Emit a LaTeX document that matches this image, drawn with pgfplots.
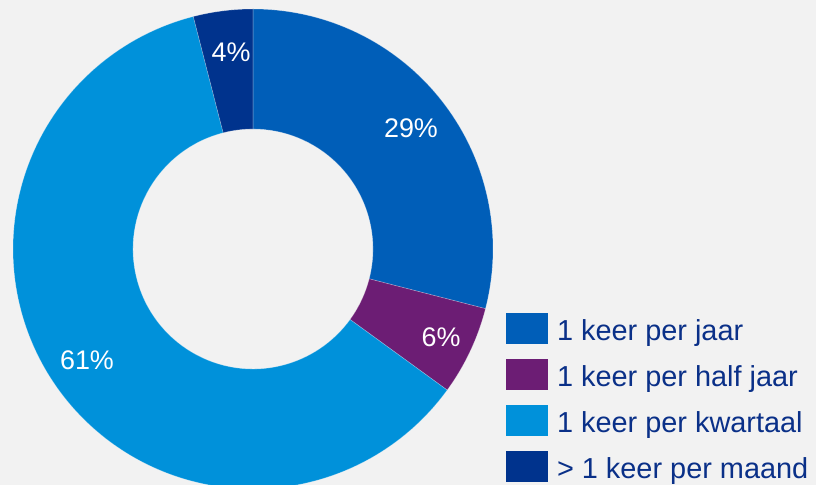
\documentclass[border=0pt]{standalone}
\usepackage{pgfplots}
\pgfplotsset{compat=1.18}
\usepackage{fontspec}
\setmainfont{Liberation Sans}
\definecolor{bg}{HTML}{F2F2F2}
\definecolor{cA}{HTML}{005EB8}
\definecolor{cB}{HTML}{6C1D74}
\definecolor{cC}{HTML}{0091DA}
\definecolor{cD}{HTML}{00338D}
\definecolor{legtext}{HTML}{0A3088}
% values (percent)
\def\vA{29}\def\vB{6}\def\vC{61}\def\vD{4}
\pgfmathsetmacro{\aO}{90}
\pgfmathsetmacro{\aA}{\aO-3.6*\vA}
\pgfmathsetmacro{\aB}{\aA-3.6*\vB}
\pgfmathsetmacro{\aC}{\aB-3.6*\vC}
\pgfmathsetmacro{\aD}{\aC-3.6*\vD}
\def\cx{253}\def\cy{236}\def\Ro{240}\def\Ri{120}
\begin{document}
\begin{tikzpicture}
\fill[bg] (0,0) rectangle (816bp,485bp);
\begin{axis}[
  at={(0,0)}, anchor=south west, scale only axis,
  width=816bp, height=485bp,
  xmin=0, xmax=816, ymin=0, ymax=485,
  hide axis,
  legend style={at={(axis cs:506,172)}, anchor=north west, draw=none, fill=none,
    inner sep=0pt, outer sep=0pt, row sep=15bp, column sep=9bp,
    font=\fontsize{29}{29}\selectfont, text=legtext,
    nodes={inner sep=0pt, text height=27bp, text depth=3bp}},
  legend cell align=left,
  legend image code/.code={\fill[#1,draw=none] (0bp,-15.5bp) rectangle (42bp,15.5bp);},
]
\addplot[fill=cA, draw=white, draw opacity=0.3, line width=0.6bp, domain=\aO:\aA, samples=90, variable=\t]
  ({\cx+\Ro*cos(\t)},{\cy+\Ro*sin(\t)}) -- (axis cs:{\cx+\Ri*cos(\aA)},{\cy+\Ri*sin(\aA)}) arc[start angle=\aA, end angle=\aO, radius=\Ri bp] -- cycle;
\addlegendentry{1 keer per jaar}
\addplot[fill=cB, draw=white, draw opacity=0.3, line width=0.6bp, domain=\aA:\aB, samples=30, variable=\t]
  ({\cx+\Ro*cos(\t)},{\cy+\Ro*sin(\t)}) -- (axis cs:{\cx+\Ri*cos(\aB)},{\cy+\Ri*sin(\aB)}) arc[start angle=\aB, end angle=\aA, radius=\Ri bp] -- cycle;
\addlegendentry{1 keer per half jaar}
\addplot[fill=cC, draw=white, draw opacity=0.3, line width=0.6bp, domain=\aB:\aC, samples=180, variable=\t]
  ({\cx+\Ro*cos(\t)},{\cy+\Ro*sin(\t)}) -- (axis cs:{\cx+\Ri*cos(\aC)},{\cy+\Ri*sin(\aC)}) arc[start angle=\aC, end angle=\aB, radius=\Ri bp] -- cycle;
\addlegendentry{1 keer per kwartaal}
\addplot[fill=cD, draw=white, draw opacity=0.3, line width=0.6bp, domain=\aC:\aD, samples=20, variable=\t]
  ({\cx+\Ro*cos(\t)},{\cy+\Ro*sin(\t)}) -- (axis cs:{\cx+\Ri*cos(\aD)},{\cy+\Ri*sin(\aD)}) arc[start angle=\aD, end angle=\aC, radius=\Ri bp] -- cycle;
\addlegendentry{> 1 keer per maand}
\begin{scope}[every node/.style={text=white, font=\fontsize{27}{27}\selectfont, anchor=base, inner sep=0pt}]
\node at (axis cs:411,347) {29\%};
\node at (axis cs:441,138) {6\%};
\node at (axis cs:87,115) {61\%};
\node at (axis cs:231,423) {4\%};
\end{scope}
\end{axis}
\end{tikzpicture}
\end{document}
